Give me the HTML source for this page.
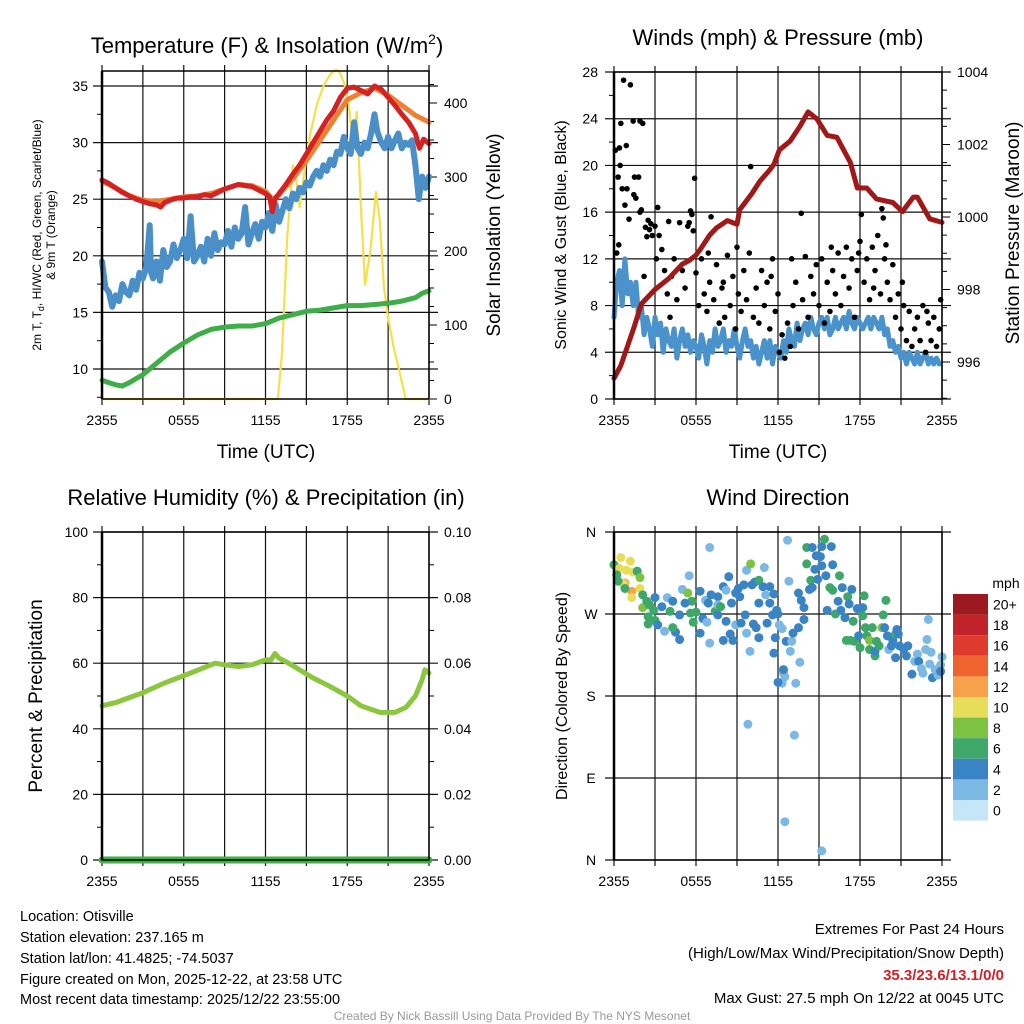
<!DOCTYPE html>
<html><head><meta charset="utf-8"><style>
html,body{margin:0;padding:0;background:#fff;}
svg{display:block;font-family:"Liberation Sans",Arial,sans-serif;}
</style></head><body>
<svg id="fig" width="1024" height="1024" viewBox="0 0 1024 1024" xmlns="http://www.w3.org/2000/svg">
<rect width="1024" height="1024" fill="#fff"/>
<g id="p1"></g>
<g id="p2"></g>
<g id="p3"></g>
<g id="p4"></g>
<text x="267" y="53" font-size="22" text-anchor="middle">Temperature (F) &amp; Insolation (W/m<tspan font-size="14" dy="-9">2</tspan><tspan dy="9">)</tspan></text>
<text x="778" y="45" font-size="22" text-anchor="middle">Winds (mph) &amp; Pressure (mb)</text>
<text x="266" y="505" font-size="22" text-anchor="middle">Relative Humidity (%) &amp; Precipitation (in)</text>
<text x="778" y="505" font-size="22" text-anchor="middle">Wind Direction</text>
<text x="266" y="458" font-size="19" text-anchor="middle">Time (UTC)</text>
<text x="778" y="458" font-size="19" text-anchor="middle">Time (UTC)</text>
<text transform="translate(41,235) rotate(-90)" font-size="12" text-anchor="middle">2m T, T<tspan font-size="9" dy="3">d</tspan><tspan dy="-3">, HI/WC (Red, Green, Scarlet/Blue)</tspan></text>
<text transform="translate(55,235) rotate(-90)" font-size="12" text-anchor="middle">&amp; 9m T (Orange)</text>
<text transform="translate(500,235) rotate(-90)" font-size="19" text-anchor="middle">Solar Insolation (Yellow)</text>
<text transform="translate(566,235) rotate(-90)" font-size="16" text-anchor="middle">Sonic Wind &amp; Gust (Blue, Black)</text>
<text transform="translate(1019,233) rotate(-90)" font-size="19" text-anchor="middle">Station Pressure (Maroon)</text>
<text transform="translate(42,696) rotate(-90)" font-size="19" text-anchor="middle">Percent &amp; Precipitation</text>
<text transform="translate(567,696) rotate(-90)" font-size="16" text-anchor="middle">Direction (Colored By Speed)</text>
<g font-size="14.5">
<text x="20" y="921">Location: Otisville</text>
<text x="20" y="942">Station elevation: 237.165 m</text>
<text x="20" y="963">Station lat/lon: 41.4825; -74.5037</text>
<text x="20" y="984">Figure created on Mon, 2025-12-22, at 23:58 UTC</text>
<text x="20" y="1004">Most recent data timestamp: 2025/12/22 23:55:00</text>
</g>
<g font-size="15" text-anchor="end">
<text x="1004" y="934">Extremes For Past 24 Hours</text>
<text x="1004" y="958">(High/Low/Max Wind/Precipitation/Snow Depth)</text>
<text x="1004" y="980" fill="#d0202a" font-weight="bold">35.3/23.6/13.1/0/0</text>
<text x="1004" y="1003">Max Gust: 27.5 mph On 12/22 at 0045 UTC</text>
</g>
<text x="512" y="1020" font-size="12" fill="#999" text-anchor="middle">Created By Nick Bassill Using Data Provided By The NYS Mesonet</text>
</svg>
<script>
// ---- Temperature panel data (hour offset from 2355, value) ----
const tempH = [0,0.5,1,1.5,2,2.5,3,3.5,4,4.3,4.6,5,5.5,6,6.5,7,7.5,8,8.5,9,9.5,10,10.5,11,11.5,12,12.3,12.5,12.7,13,13.5,14,14.5,15,15.5,16,16.5,17,17.5,18,18.5,19,19.5,20,20.5,21,21.5,22,22.5,23,23.3,23.6,24];
const tempV = [26.7,26.4,26.0,25.6,25.3,25.0,24.8,24.6,24.5,24.3,24.7,24.9,25.1,25.1,25.2,25.2,25.4,25.3,25.6,25.9,26.1,26.3,26.2,26.1,25.8,25.5,25.2,23.9,25.0,25.5,26.3,27.2,28.0,29.0,30.0,31.0,32.0,32.8,34.0,34.8,34.9,34.6,34.3,35.0,34.7,34.0,33.3,32.5,31.8,30.8,29.5,30.3,29.9];
const temp9H = [0,1,2,3,4,5,6,7,8,9,10,11,12,12.5,13,14,15,16,17,18,19,20,21,22,23,24];
const temp9V = [26.6,26.0,25.3,24.9,24.8,25.0,25.2,25.3,25.5,25.9,26.3,26.2,25.7,25.0,25.4,26.8,28.4,30.2,32.0,33.8,34.4,34.8,34.2,33.3,32.4,31.8];
const hiwcH = [0,0.25,0.5,0.75,1,1.25,1.5,1.75,2,2.25,2.5,2.75,3,3.25,3.5,3.6,3.75,4,4.25,4.5,4.75,5,5.25,5.5,5.75,6,6.25,6.5,6.75,7,7.25,7.5,7.75,8,8.25,8.5,8.75,9,9.25,9.5,9.75,10,10.25,10.5,10.75,11,11.25,11.5,11.75,12,12.25,12.5,12.75,13,13.25,13.5,13.75,14,14.25,14.5,14.75,15,15.25,15.5,15.75,16,16.25,16.5,16.75,17,17.25,17.5,17.75,18,18.25,18.5,18.75,19,19.25,19.5,19.75,20,20.2,20.5,20.75,21,21.25,21.5,21.75,22,22.25,22.5,22.75,23,23.25,23.5,23.75,24];
const hiwcV = [19.5,17.2,16.8,15.5,16.5,16.0,17.5,16.8,16.5,17.8,17.0,18.5,18.0,19.0,22.7,18.5,18.0,19.5,17.8,20.5,19.0,19.5,21.0,19.8,20.5,21.5,19.8,23.5,19.5,20.0,20.8,19.5,21.5,20.0,22.0,20.5,21.2,21.0,22.2,20.8,22.5,21.5,22.0,24.3,21.0,22.0,22.8,21.5,23.0,22.5,23.8,22.2,24.5,23.0,24.0,25.0,24.2,25.5,25.0,26.0,25.6,26.5,26.2,27.0,27.5,27.0,28.0,27.5,28.5,28.0,29.2,29.0,30.5,29.5,29.0,31.8,29.5,29.0,30.0,29.5,30.8,32.5,31.0,30.0,29.5,30.5,29.5,30.2,30.8,29.5,30.0,29.8,30.2,28.0,25.0,27.0,26.0,27.0];
const dewH = [0,0.5,1,1.5,2,3,4,5,6,7,8,9,10,11,12,13,14,15,16,17,18,19,20,21,22,23,23.5,24];
const dewV = [9.0,8.8,8.6,8.5,8.8,9.5,10.5,11.5,12.3,13.0,13.5,13.7,13.8,13.8,14.0,14.5,14.8,15.1,15.2,15.4,15.6,15.6,15.7,15.8,16.0,16.3,16.7,16.9];
const solarH = [0,12.9,13.2,13.6,14.0,14.3,14.5,14.8,15.3,15.8,16.3,16.8,17.2,17.5,17.8,18.1,18.4,18.7,19.0,19.3,19.7,20.1,20.4,20.7,21.0,21.4,21.8,22.3,24];
const solarV = [0,0,60,220,316,290,259,300,360,400,425,440,445,440,425,400,347,388,260,154,200,280,240,150,110,70,40,0,0];
const p1YTicks = [10,15,20,25,30,35];
const p1RTicks = [0,100,200,300,400];
const timeLabels = ["2355","0555","1155","1755","2355"];
// ---- Winds panel data ----
const presH = [0,0.5,1,1.5,2,3,4,5,5.5,6,6.3,7,7.5,8.3,9,9.2,10.1,10.7,11.4,11.7,12.1,12.9,13.6,14.2,14.85,15.6,16.3,17.3,17.8,18.5,19.2,20.4,21.1,21.9,22.2,23.1,24];
const presV = [995.55,995.9,996.45,997.0,997.6,998.0,998.3,998.7,998.8,998.95,999.1,999.5,999.7,999.9,999.8,1000.2,1000.65,1001.0,1001.3,1001.45,1001.85,1002.1,1002.5,1002.9,1002.7,1002.25,1002.2,1001.5,1000.8,1000.8,1000.5,1000.4,1000.15,1000.55,1000.55,999.95,999.85];
const windH = [0,0.2,0.4,0.6,0.8,1,1.2,1.4,1.6,1.8,2,2.2,2.4,2.6,2.8,3,3.2,3.4,3.6,3.8,4,4.2,4.4,4.6,4.8,5,5.2,5.4,5.6,5.8,6,6.2,6.4,6.6,6.8,7,7.2,7.4,7.6,7.8,8,8.2,8.4,8.6,8.8,9,9.2,9.4,9.6,9.8,10,10.2,10.4,10.6,10.8,11,11.2,11.4,11.6,11.8,12,12.2,12.4,12.6,12.8,13,13.2,13.4,13.6,13.8,14,14.2,14.4,14.6,14.8,15,15.2,15.4,15.6,15.8,16,16.2,16.4,16.6,16.8,17,17.2,17.4,17.6,17.8,18,18.2,18.4,18.6,18.8,19,19.2,19.4,19.6,19.8,20,20.2,20.4,20.6,20.8,21,21.2,21.4,21.6,21.8,22,22.2,22.4,22.6,22.8,23,23.2,23.4,23.6,23.8,24];
const windV = [7,10,11,8,12,9,10,8,10,7,8,5.5,7,6,4.5,7,5.5,6.5,4,6,5,4.5,6,3.5,5,6,4.5,5.5,4,5,4.5,3.5,5.5,4.5,3,5,4,6,4.5,5,6,4,5,4.5,6,4.5,3.5,5,6,4.5,5,3.5,4.5,3,4,5,3.5,5,3,4.5,4,3.5,5,4,6,5,4.5,6.5,5,6,6.5,5.5,7,6,5.5,6.5,7,6,7,5.5,6,7,6,6.5,7,6,7.5,6.5,6,7,6.5,6,6.5,7,6,7,6.5,6,7,5.5,6,4.5,5,4,4.5,3.5,4,3,4,3.5,3,4,3,3.5,4,3,3.5,3,3.5,3];
const gustH = [0.1,0.2,0.3,0.35,0.4,0.45,0.5,0.6,0.7,0.8,0.9,0.95,1.1,1.2,1.4,1.45,1.5,1.6,1.8,1.9,1.9,2.0,2.1,2.2,2.3,2.4,2.5,2.6,2.7,2.8,3.0,3.1,3.2,3.3,3.5,3.7,3.9,4.0,4.1,4.2,4.4,4.6,4.8,5.0,5.2,5.4,5.5,5.6,5.7,5.8,5.9,6.0,6.2,6.4,6.6,6.8,6.9,7.0,7.1,7.3,7.5,7.7,7.9,8.0,8.1,8.3,8.5,8.7,8.9,9.0,9.1,9.3,9.5,9.7,9.9,10.0,10.2,10.4,10.6,10.8,11.0,11.2,11.4,11.5,11.6,11.8,12.0,12.1,12.3,12.5,12.7,12.9,13.0,13.1,13.3,13.5,13.7,13.8,14.0,14.2,14.4,14.6,14.8,15.0,15.2,15.4,15.6,15.8,15.9,16.0,16.2,16.4,16.6,16.8,17.0,17.2,17.4,17.6,17.8,17.9,18.0,18.1,18.3,18.5,18.7,18.9,19.0,19.1,19.3,19.5,19.6,19.7,19.8,19.9,20.0,20.2,20.4,20.6,20.8,21.0,21.1,21.2,21.4,21.6,21.8,22.0,22.2,22.4,22.6,22.8,22.9,23.0,23.2,23.4,23.6,23.8,23.9];
const gustV = [21.3,12.5,19,13.2,21.5,20,23.6,18,27.3,16.6,21.7,18,15.4,26.9,23.8,17.5,19,17.2,19,23.8,16,16.2,23.6,10.5,14.7,13.9,15.3,14.5,15,14,14.8,12,16.4,14,12.8,11,9,15.2,7,10.5,12,8.5,15.1,11,9.5,14.8,15.1,16.1,15.8,14.4,18.9,10.8,8,12,9,7.5,12.5,10,15.6,8.5,11.5,6.5,9.5,10,7,12.3,8,10.5,6,13,9,7.5,11,8.5,12.5,19.9,7,9.5,6.5,11,8,10,6,10.5,12,7.5,9,4,5.5,3.5,6.5,4.5,12,8,10,6,15.9,8.5,12.2,7,10.5,9,11.5,8,12,6.5,10,7.5,13,11,9,12.5,8,10.5,13,9.5,12,7,11,12.5,13.5,15.8,10,12,8.5,13,9.5,11,14,9,16.3,15.5,12,13.2,10,8.5,11.5,7,9,6,10,8,5,7.5,4.5,6,7,5,8,4,7.5,6.5,5,7,4.5,6,8.5];
const p2YTicks = [0,4,8,12,16,20,24,28];
const p2RTicks = [996,998,1000,1002,1004];
// ---- Humidity panel data ----
const rhH = [0,1,2,3,4.6,6.5,8.3,9,10,11,12,12.4,12.7,13,13.5,14.5,15.5,16.7,18,19,20.4,21.5,22.3,23,23.5,23.7,24];
const rhV = [47,48,49.5,51,54,57,60,59.5,59,59.5,61,61,63,61.5,60.5,58,55.5,53,50,47,45,45,46.5,50,55,58,57];
const precipH = [0,24];
const precipV = [0,0];
const p3YTicks = [0,20,40,60,80,100];
const p3RTicks = ["0.00","0.02","0.04","0.06","0.08","0.10"];
// ---- Wind direction data ----
const dirH = [0,0.5,1.2,0.4,0.9,1.4,0.8,1.3,0.7,1.3,1.9,1.7,1.9,0.2,0.3,0.8,2.1,2.1,2.4,2.6,2.5,2.5,3,3,3.2,2.9,3.5,3.9,3.7,4.1,4.3,4.5,4.8,4.3,4.8,5,5.4,5.5,5.7,5.6,5.2,5.8,6,6.3,6.3,6.5,6.8,6.7,6.9,7,7,7.1,7.4,7.6,7.6,7.6,7.8,8,8,8.2,8.2,8.4,8.5,8.6,8.7,8.9,8.9,9.1,9.2,9.3,9.5,9.6,9.7,9.7,9.95,10,10.1,10.2,10.3,10.4,10.6,10.6,10.6,10.9,11,11.1,11.2,11.4,11.4,11.6,11.7,11.7,11.8,11.9,12,12.1,12.3,12.4,12.3,12.5,12.7,12.6,12.8,12.9,13,13.1,13.3,13.5,13.5,13.6,13.7,13.9,13.9,14.1,14.1,14.3,14.4,14.5,14.5,14.7,14.8,14.9,15.1,15.2,15.2,15.4,15.5,15.6,15.8,15.9,16,16,16.2,16.4,16.5,16.6,16.7,16.9,17,17.1,17.2,17.3,17.4,17.5,17.6,17.8,17.9,18,18.2,18.2,18.3,18.4,18.5,18.7,18.7,18.9,19.1,19.1,19.2,19.4,19.6,19.7,19.8,19.9,20,20.1,20.3,20.4,20.6,20.7,20.8,20.6,20.9,21.2,21.4,21.5,21.8,22,22.2,22.3,22.5,22.6,22.8,22.9,23,23.1,23.2,23.3,23.5,23.7,23.9,24,23.9,9.8,13.2,12.5,15.2,12.4,12];
const dirV = [324,332,328,320,318,316,304,295,303,288,298,317,310,313,306,298,291,277,284,280,267,259,288,263,258,274,278,288,251,273,284,250,242,255,269,297,293,312,284,271,282,261,272,295,249,265,261,285,282,343,238,291,273,289,269,280,278,241,300,296,262,311,248,282,241,293,258,298,289,260,302,269,318,249,229,325,302,259,305,255,307,282,244,300,321,291,260,300,282,269,292,227,244,274,270,258,254,205,194,201,351,240,306,229,240,249,194,255,293,217,285,277,264,343,325,297,307,299,343,319,334,308,333,344,323,352,312,274,299,344,296,324,270,284,312,274,299,266,241,289,281,241,297,262,240,276,246,233,268,277,290,255,246,241,231,255,224,229,240,235,255,269,255,285,246,231,235,241,248,253,248,222,235,231,224,235,204,218,226,218,210,205,231,242,264,215,228,200,209,203,214,223,207,149,137,42,10,209,195];
const dirS = [6,10,10,10,10,10,12,12,10,10,10,6,8,6,6,6,6,8,6,6,6,6,4,6,4,6,4,2,2,6,4,4,4,6,4,2,8,2,6,6,4,6,6,4,4,4,2,2,4,2,2,4,6,4,4,2,6,4,4,2,4,4,4,4,4,4,2,4,4,4,4,4,2,2,2,8,4,4,4,4,6,4,4,4,2,2,4,4,4,4,4,4,4,4,4,2,2,2,2,2,2,4,2,2,2,4,2,4,4,2,4,4,4,6,6,4,6,4,4,4,4,4,4,4,4,6,4,4,6,4,6,4,6,4,6,4,4,4,6,6,4,6,4,6,6,4,4,6,6,4,6,6,6,8,6,6,6,4,6,6,8,6,4,6,4,2,4,4,6,4,4,4,4,4,4,4,4,2,2,4,2,2,2,2,2,2,2,4,2,2,2,2,4,2,2,2,2,4,4];
const dirTicks = ["N","E","S","W","N"];
const speedLabels = ["20+","18","16","14","12","10","8","6","4","2","0"];
const speedColors = ["#9c1a1f","#c0242a","#de3a2d","#ef632f","#f6a24a","#e6de5b","#7dc243","#3ea86b","#3b84c4","#7bb9e4","#c5e6f7"];

const NS="http://www.w3.org/2000/svg";
function mk(parent,tag,attrs){const e=document.createElementNS(NS,tag);for(const k in attrs)e.setAttribute(k,attrs[k]);parent.appendChild(e);return e;}
function txt(parent,x,y,s,size,anchor){const t=mk(parent,'text',{x:x,y:y,'font-size':size,'text-anchor':anchor});t.textContent=s;return t;}

const P1={l:102,r:429,t:71,b:399};
const P2={l:614,r:942,t:72,b:399};
const P3={l:102,r:429,t:532,b:860};
const P4={l:614,r:942,t:532,b:860};
function xs(P){return h=>P.l+h*(P.r-P.l)/24;}
const x1=xs(P1),x2=xs(P2),x3=xs(P3),x4=xs(P4);
const yTemp=v=>369-(v-10)*11.32;
const ySol=v=>399-v*0.74;
const yWind=v=>P2.b-v*(P2.b-P2.t)/28;
const yPres=p=>362-(p-996)*36.25;
const yRH=v=>P3.b-v*(P3.b-P3.t)/100;
const yPrec=v=>P3.b-v*(P3.b-P3.t)/0.1;
const yDir=d=>P4.b-d*(P4.b-P4.t)/360;

function grid(g,P,xN,yVals,yf){
  for(let i=0;i<=xN;i++){const x=P.l+i*(P.r-P.l)/xN;
    const ln=mk(g,'line',{x1:x,x2:x,y1:P.t-6,y2:P.b+6,stroke:'#111','stroke-width':1.2});
    
    }
  yVals.forEach(v=>{const y=yf(v);
    const ln=mk(g,'line',{x1:P.l-9,x2:P.r+9,y1:y,y2:y,stroke:'#111','stroke-width':1.2});
    
    });
}
function frame(g,P){
  const r=mk(g,'rect',{x:P.l,y:P.t,width:P.r-P.l,height:P.b-P.t,fill:'none',stroke:'#000','stroke-width':1.5});
  
  
  mk(g,'line',{x1:P.l,x2:P.l,y1:P.t,y2:P.b,stroke:'#000','stroke-width':2.5});
}
function xLabels(g,P,xf){
  timeLabels.forEach((s,i)=>{const t=txt(g,xf(i*6),P.b+26,s,14,'middle');
    
    });
}
function line(g,H,V,xf,yf,color,w,name){
  const pts=H.map((h,i)=>xf(h).toFixed(1)+','+yf(V[i]).toFixed(1)).join(' ');
  const p=mk(g,'polyline',{points:pts,fill:'none',stroke:color,'stroke-width':w,'stroke-linejoin':'round','stroke-linecap':'round'});
  
  
}
function minorTicks(g,x0,dir,ys){ys.forEach(y=>mk(g,'line',{x1:x0,x2:x0+dir*5,y1:y,y2:y,stroke:'#000','stroke-width':1}));}

// Panel 1
const g1=document.getElementById('p1');
grid(g1,P1,8,p1YTicks,yTemp);
p1YTicks.forEach(v=>{const t=txt(g1,88,yTemp(v)+5,String(v),14,'end');
  
  });
p1RTicks.forEach(v=>{const y=ySol(v);mk(g1,'line',{x1:P1.r,x2:P1.r+8,y1:y,y2:y,stroke:'#000'});
  const t=txt(g1,444,y+5,String(v),14,'start');
  
  });
minorTicks(g1,P1.l,-1,[7.5,12.5,17.5,22.5,27.5,32.5].map(yTemp));
minorTicks(g1,P1.r,1,[25,50,75,125,150,175,225,250,275,325,350,375,425].map(ySol));
xLabels(g1,P1,x1);
line(g1,solarH,solarV,x1,ySol,'#f6e04a',2.2,'solar-insolation-line');
line(g1,dewH,dewV,x1,yTemp,'#3fae48',5,'dewpoint-line');
line(g1,hiwcH,hiwcV,x1,yTemp,'#4a8fc8',6,'heat-index-wind-chill-line');
line(g1,temp9H,temp9V,x1,yTemp,'#f08030',5,'temp-9m-line');
line(g1,tempH,tempV,x1,yTemp,'#d42222',5,'temp-2m-line');
frame(g1,P1);

// Panel 2
const g2=document.getElementById('p2');
grid(g2,P2,8,p2YTicks,yWind);
p2YTicks.forEach(v=>{const t=txt(g2,598,yWind(v)+5,String(v),14,'end');
  
  });
p2RTicks.forEach(v=>{const y=yPres(v);mk(g2,'line',{x1:P2.r,x2:P2.r+8,y1:y,y2:y,stroke:'#000'});
  const t=txt(g2,957,y+5,String(v),14,'start');
  
  });
minorTicks(g2,P2.l,-1,[2,6,10,14,18,22,26].map(yWind));
minorTicks(g2,P2.r,1,[995,995.5,996.5,997,997.5,998.5,999,999.5,1000.5,1001,1001.5,1002.5,1003,1003.5].map(yPres));
xLabels(g2,P2,x2);
line(g2,windH,windV,x2,yWind,'#4a92cc',5,'sonic-wind-line');
gustH.forEach((h,i)=>{const c=mk(g2,'circle',{cx:x2(h),cy:yWind(gustV[i]),r:2.8,fill:'#000'});
  
  });
line(g2,presH,presV,x2,yPres,'#a01818',5,'pressure-line');
frame(g2,P2);

// Panel 3
const g3=document.getElementById('p3');
grid(g3,P3,8,p3YTicks,yRH);
p3YTicks.forEach((v,i)=>{const y=yRH(v);
  const t=txt(g3,88,y+5,String(v),14,'end');
  
  
  const t2=txt(g3,444,y+5,p3RTicks[i],14,'start');
  
  });
minorTicks(g3,P3.l,-1,[10,30,50,70,90].map(yRH));
minorTicks(g3,P3.r,1,[10,30,50,70,90].map(yRH));
xLabels(g3,P3,x3);
line(g3,rhH,rhV,x3,yRH,'#8cc63f',5,'relative-humidity-line');
line(g3,precipH,precipV,x3,yPrec,'#3faf48',7,'precipitation-line');
frame(g3,P3);

// Panel 4
const g4=document.getElementById('p4');
grid(g4,P4,8,[0,90,180,270,360],yDir);
dirTicks.forEach((s,i)=>{const t=txt(g4,591,yDir(i*90)+5,s,14,'middle');
  
  });
xLabels(g4,P4,x4);
function speedColor(s){const idx=Math.max(0,Math.min(10,10-Math.round(s/2)));return speedColors[idx];}
dirH.forEach((h,i)=>{const c=mk(g4,'circle',{cx:x4(h),cy:yDir(dirV[i]),r:4.5,fill:speedColor(dirS[i])});
  
  });
frame(g4,P4);
const cb=mk(g4,'g',{});


const cbT=txt(cb,1006,588,'mph',14,'middle');


speedLabels.forEach((s,i)=>{const y=594+i*20.6;
  const r=mk(cb,'rect',{x:953,y:y,width:35,height:20.6,fill:speedColors[i]});
  
  
  const t=txt(cb,993,y+15.5,s,14,'start');
  
  });
</script>
</body></html>
